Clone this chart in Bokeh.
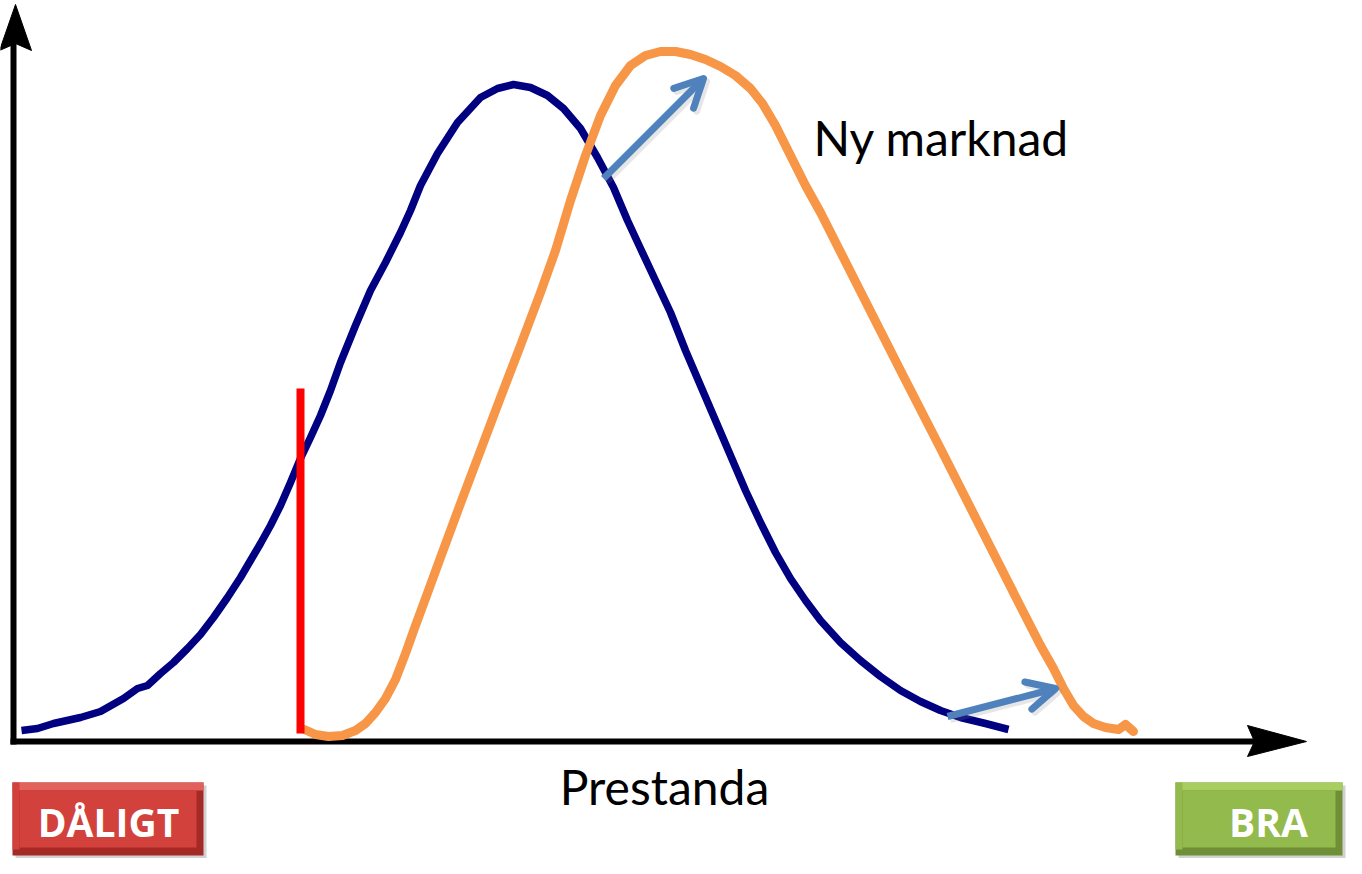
from bokeh.plotting import figure
from bokeh.models import Range1d, Arrow, OpenHead
from bokeh.core.properties import value
from bokeh.embed import file_html
from bokeh.resources import INLINE

# ---------------- data (in picture units) ----------------
old_x = [21, 37, 53, 80, 100, 123, 137, 147, 160, 173, 187, 200, 213, 227, 240, 250,
         260, 270, 280, 290, 300, 310, 320, 330, 340, 355, 370, 385, 400, 410, 420,
         437, 457, 480, 497, 513, 530, 547, 563, 580, 597, 613, 627, 640, 655, 670,
         685, 700, 715, 730, 745, 760, 775, 790, 805, 820, 840, 860, 880, 900, 920,
         940, 960, 985, 1008]
old_y = [730, 728, 723, 717, 711, 698, 688, 685, 673, 662, 648, 634, 617, 597, 577, 560,
         543, 525, 505, 482, 458, 437, 415, 390, 362, 325, 290, 262, 232, 210, 185,
         153, 122, 97, 88, 84, 87, 95, 108, 128, 157, 187, 220, 248, 280, 312,
         350, 385, 420, 455, 490, 522, 552, 578, 600, 620, 642, 660, 676, 690, 701,
         710, 717, 723, 729]

new_x = [304, 315, 328, 342, 355, 365, 375, 385, 395, 405, 415, 425, 440, 460, 480, 500,
         520, 540, 555, 570, 585, 600, 615, 630, 645, 660, 675, 690, 705, 720, 735,
         750, 762, 775, 790, 805, 820, 860, 900, 940, 980, 1020, 1040, 1053, 1063,
         1073, 1083, 1093, 1105, 1118, 1125, 1133]
new_y = [729, 734, 736, 735, 730, 723, 712, 698, 679, 653, 625, 598, 557, 503, 450, 397,
         345, 292, 250, 200, 155, 115, 85, 65, 55, 51, 51, 54, 59, 66, 75,
         88, 103, 125, 155, 185, 212, 291, 370, 448, 527, 606, 645, 668, 688,
         705, 716, 723, 727, 729, 724, 731]

threshold_x = [300, 300]
threshold_y = [388, 733]

shift_arrows_x0 = [603, 947]
shift_arrows_y0 = [178, 716]
shift_arrows_x1 = [703, 1055]
shift_arrows_y1 = [78, 688]

label_new = "Ny marknad"
label_axis = "Prestanda"
label_bad = "DÅLIGT"
label_good = "BRA"

# ---------------- figure ----------------
W, H = 1346, 858
p = figure(width=W, height=H, output_backend="svg", toolbar_location=None,
           x_range=Range1d(0, W), y_range=Range1d(H, 0),
           min_border=0)
p.axis.visible = False
p.grid.visible = False
p.outline_line_color = None
p.background_fill_color = "white"
p.border_fill_color = "white"

# axes with arrow heads
p.line([13, 13], [744, 42], line_color="black", line_width=6)
p.line([10, 1255], [741, 741], line_color="black", line_width=6)
p.patch([15, 31, 15, -1], [4, 50, 43, 50], fill_color="black", line_color="black")
p.patch([1306, 1247, 1254, 1247], [741, 725, 741, 756], fill_color="black", line_color="black")

# curves
p.line(old_x, old_y, line_color="#000080", line_width=7.5, line_join="round", line_cap="butt")
p.line(new_x, new_y, line_color="#F79646", line_width=9, line_join="round", line_cap="round")

# red threshold
p.line(threshold_x, threshold_y, line_color="#FF0000", line_width=8)

# blue shift arrows (with faint shadow)
for dx, col, alpha in [(3, "#808080", 0.2), (0, "#4F81BD", 1.0)]:
    for x0, y0, x1, y1 in zip(shift_arrows_x0, shift_arrows_y0, shift_arrows_x1, shift_arrows_y1):
        p.add_layout(Arrow(x_start=x0 + dx, y_start=y0 + dx, x_end=x1 + dx, y_end=y1 + dx,
                           line_color=col, line_width=7, line_alpha=alpha,
                           end=OpenHead(size=28, line_color=col, line_width=7,
                                        line_alpha=alpha, line_cap="round", line_join="round")))

# text labels
p.text(x=[813], y=[137], text=[label_new], text_font=value("Lato"),
       text_font_size=value("48px"), text_color="black",
       text_align="left", text_baseline="middle")
p.text(x=[664], y=[786], text=[label_axis], text_font=value("Lato"),
       text_font_size=value("48px"), text_color="black",
       text_align="center", text_baseline="middle")

# buttons
def button(x0, x1, y0, y1, dark, mid, light, label, cx):
    p.quad(left=x0 + 3, right=x1 + 3, top=y0 + 3, bottom=y1 + 3, fill_color="#000000",
           fill_alpha=0.18, line_color=None)
    p.quad(left=x0, right=x1, top=y0, bottom=y1, fill_color=dark, line_color=None)
    p.quad(left=x0, right=x1, top=y0, bottom=y0 + 8, fill_color=light, line_color=None)
    p.quad(left=x0, right=x0 + 7, top=y0, bottom=y1 - 6, fill_color=mid, line_color=None)
    p.quad(left=x0 + 7, right=x1 - 7, top=y0 + 8, bottom=y1 - 8, fill_color=mid, line_color=None)
    p.text(x=[cx], y=[(y0 + y1) / 2 + 2], text=[label], text_font=value("Open Sans"),
           text_font_size=value("39px"), text_font_style="bold", text_color="white",
           text_align="center", text_baseline="middle")

button(12, 203, 782, 855, "#A52A26", "#D2413C", "#E2615C", label_bad, 108)
button(1175, 1342, 782, 855, "#6E8F35", "#92BA4D", "#A8CE62", label_good, 1268)

open("out.html", "w").write(file_html(p, INLINE))
